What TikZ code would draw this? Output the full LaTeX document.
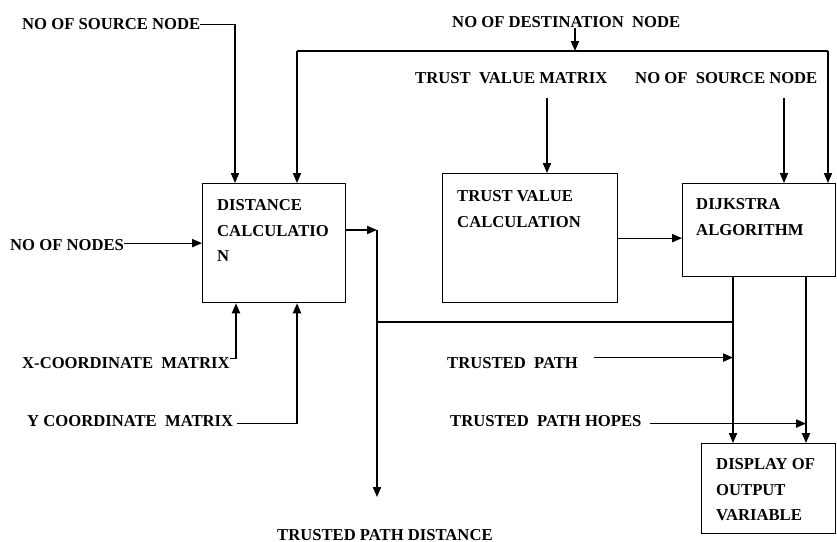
\documentclass[tikz,border=0pt]{standalone}
\usepackage{fontspec}
\setmainfont{Liberation Serif}
\usetikzlibrary{calc,positioning,arrows.meta}

\begin{document}
\begin{tikzpicture}[x=0.03cm, y=-0.03cm,
        lbl/.style={font=\bfseries\fontsize{14.2}{22}\selectfont, inner sep=0pt, anchor=base west},
        boxtext/.style={font=\bfseries\fontsize{14.2}{22}\selectfont, inner sep=0pt, anchor=north west, align=left},
        blk/.style={draw, line width=1.1pt, anchor=north west, inner sep=0pt},
        line/.style={line width=1.1pt},
        arr/.style={line width=1.1pt, -{Triangle[length=8.5pt,width=7pt]}}]

        \useasboundingbox (0,0) rectangle (837,542);

        % Draw the four blocks
        \node[blk, minimum width=4.29cm, minimum height=3.57cm] (dist) at (202,183) {};
        \node[blk, minimum width=5.25cm, minimum height=3.87cm] (trust) at (442,173) {};
        \node[blk, minimum width=4.59cm, minimum height=2.79cm] (dijk) at (682,183) {};
        \node[blk, minimum width=4.02cm, minimum height=2.7cm] (disp) at (701,443) {};

        % Text inside the blocks
        \node[boxtext] (distT) at ($(dist.north west)+(15,16)$) {DISTANCE\\CALCULATIO\\N};
        \node[boxtext] (trustT) at ($(trust.north west)+(15,17)$) {TRUST VALUE\\CALCULATION};
        \node[boxtext] (dijkT) at ($(dijk.north west)+(14,15)$) {DIJKSTRA\\ALGORITHM};
        \node[boxtext] (dispT) at ($(disp.north west)+(15,15)$) {DISPLAY OF\\OUTPUT\\VARIABLE};

        % Input and output labels
        \node[lbl] (srcA) at (22,30) {NO OF SOURCE NODE};
        \node[lbl] (dest) at (452,28) {NO OF DESTINATION\ \ NODE};
        \node[lbl] (tvm) at (415,84) {TRUST\ \ VALUE MATRIX};
        \node[lbl] (srcB) at (635,84) {NO OF\ \ SOURCE NODE};
        \node[lbl] (nodes) at (10,251) {NO OF NODES};
        \node[lbl] (xcm) at (22,369) {X-COORDINATE\ \ MATRIX};
        \node[lbl] (ycm) at (27,426) {Y COORDINATE\ \ MATRIX};
        \node[lbl] (tp) at (447,369) {TRUSTED\ \ PATH};
        \node[lbl] (tph) at (450,426) {TRUSTED\ \ PATH HOPES};
        \node[lbl] (tpd) at (277,540) {TRUSTED PATH DISTANCE};

        % Helper points
        \coordinate (busL) at (297,51);
        \coordinate (busR) at (828,51);
        \coordinate (busD) at (575,51);
        \coordinate (tap) at (377,230);
        \coordinate (tapEnd) at (377,497);
        \coordinate (outL) at ($(dijk.south west)+(51,0)$);
        \coordinate (outR) at ($(dijk.south west)+(124,0)$);
        \coordinate (mid) at (733,322);
        \coordinate (tpS) at ($(tp.east)+(16,-6)$);
        \coordinate (tphS) at ($(tph.east)+(8,3)$);

        % Inputs of the distance block
        \draw[arr] (srcA.east) -| ($(dist.north west)+(33,0)$);
        \draw[arr] (nodes.east |- dist.west) -- (dist.west);
        \draw[arr] ($(xcm.east)+(0,-5)$) -| ($(dist.south west)+(34,0)$);
        \draw[arr] ($(ycm.east)+(4,3)$) -| ($(dist.south west)+(95,0)$);

        % Destination bus
        \draw[line] (busL) -- (busR);
        \draw[arr] (dest.south -| busD) -- (busD);
        \draw[arr] (busL) -- (busL |- dist.north);
        \draw[arr] (busR) -- (busR |- dijk.north);

        % Trust value and dijkstra inputs
        \draw[arr] ($(trust.north west)+(105,-75)$) -- ($(trust.north west)+(105,0)$);
        \draw[arr] ($(dijk.north west)+(102,-85)$) -- ($(dijk.north west)+(102,0)$);
        \draw[arr] (trust.east) -- (dijk.west |- trust.east);

        % Distance output
        \draw[arr] ($(dist.north east)+(0,47)$) -- (tap);
        \draw[arr] (tap) -- (tapEnd);
        \draw[line] (tap |- mid) -- (outL |- mid);

        % Dijkstra outputs to display
        \draw[arr] (outL) -- (outL |- disp.north);
        \draw[arr] (outR) -- (outR |- disp.north);
        \draw[arr] (tpS) -- (tpS -| outL);
        \draw[arr] (tphS) -- (tphS -| outR);

 \end{tikzpicture}
\end{document}
